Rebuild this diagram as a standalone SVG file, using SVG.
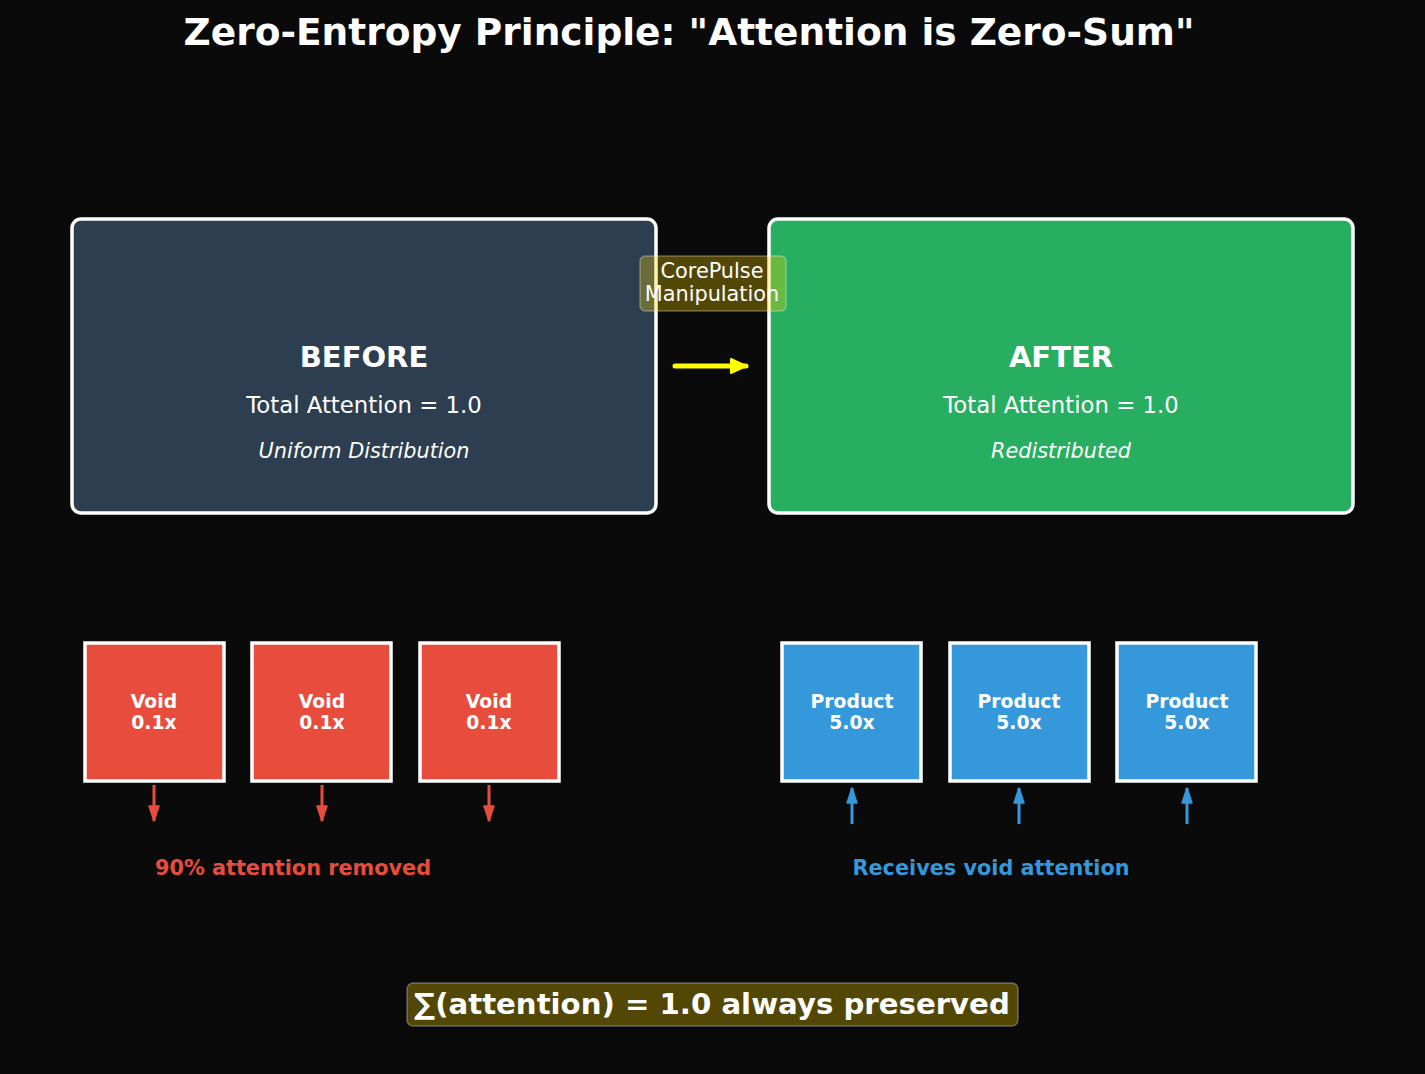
<svg xmlns="http://www.w3.org/2000/svg" width="1425" height="1074" viewBox="0 0 1425 1074">
<defs>
<style>
text{font-family:"DejaVu Sans",sans-serif;fill:#fff;text-anchor:middle}
.big{stroke:#fff;stroke-width:3.5}
.sq{stroke:#fff;stroke-width:3.5}
.h{font-size:29px;font-weight:bold}
.t{font-size:22.8px}
.i{font-size:20.8px;font-style:italic}
.s{font-size:18.8px;font-weight:bold}
.lab{font-size:20.8px;font-weight:bold}
</style>
<marker id="ay" viewBox="0 0 20 20" refX="17" refY="10" markerWidth="20" markerHeight="20" markerUnits="userSpaceOnUse" orient="auto"><path d="M2,3 L17,10 L2,17 z" fill="#ffff00" stroke="#ffff00" stroke-width="2" stroke-linejoin="round"/></marker>
<marker id="ar" viewBox="0 0 20 20" refX="17" refY="10" markerWidth="20" markerHeight="20" markerUnits="userSpaceOnUse" orient="auto"><path d="M2,5 L17,10 L2,15 z" fill="#e74c3c" stroke="#e74c3c" stroke-width="1.5" stroke-linejoin="round"/></marker>
<marker id="ab" viewBox="0 0 20 20" refX="17" refY="10" markerWidth="20" markerHeight="20" markerUnits="userSpaceOnUse" orient="auto"><path d="M2,5 L17,10 L2,15 z" fill="#3498db" stroke="#3498db" stroke-width="1.5" stroke-linejoin="round"/></marker>
</defs>
<rect width="1425" height="1074" fill="#0a0a0a"/>
<text x="689" y="45" style="font-size:37.5px;font-weight:bold">Zero-Entropy Principle: "Attention is Zero-Sum"</text>
<g id="before">
<rect class="big" x="72" y="219" width="584" height="294" rx="9" fill="#2c3e50"/>
<text class="h" x="364" y="367">BEFORE</text>
<text class="t" x="364" y="413">Total Attention = 1.0</text>
<text class="i" x="364" y="458">Uniform Distribution</text>
</g>
<g id="after">
<rect class="big" x="769" y="219" width="584" height="294" rx="9" fill="#27ae60"/>
<text class="h" x="1061" y="367">AFTER</text>
<text class="t" x="1061" y="413">Total Attention = 1.0</text>
<text class="i" x="1061" y="458">Redistributed</text>
</g>
<g id="voids">
<g id="void1"><rect class="sq" x="85" y="643" width="139" height="138" fill="#e74c3c"/><text class="s" x="154" y="708">Void</text><text class="s" x="154" y="729">0.1x</text></g>
<g id="void2"><rect class="sq" x="252" y="643" width="139" height="138" fill="#e74c3c"/><text class="s" x="322" y="708">Void</text><text class="s" x="322" y="729">0.1x</text></g>
<g id="void3"><rect class="sq" x="420" y="643" width="139" height="138" fill="#e74c3c"/><text class="s" x="489" y="708">Void</text><text class="s" x="489" y="729">0.1x</text></g>
</g>
<g id="products">
<g id="prod1"><rect class="sq" x="782" y="643" width="139" height="138" fill="#3498db"/><text class="s" x="852" y="708">Product</text><text class="s" x="852" y="729">5.0x</text></g>
<g id="prod2"><rect class="sq" x="950" y="643" width="139" height="138" fill="#3498db"/><text class="s" x="1019" y="708">Product</text><text class="s" x="1019" y="729">5.0x</text></g>
<g id="prod3"><rect class="sq" x="1117" y="643" width="139" height="138" fill="#3498db"/><text class="s" x="1187" y="708">Product</text><text class="s" x="1187" y="729">5.0x</text></g>
</g>
<g id="connectors" fill="none">
<line x1="675" y1="366" x2="746" y2="366" stroke="#ffff00" stroke-width="5" stroke-linecap="round" marker-end="url(#ay)"/>
<line x1="154" y1="785" x2="154" y2="821" stroke="#e74c3c" stroke-width="3" marker-end="url(#ar)"/>
<line x1="322" y1="785" x2="322" y2="821" stroke="#e74c3c" stroke-width="3" marker-end="url(#ar)"/>
<line x1="489" y1="785" x2="489" y2="821" stroke="#e74c3c" stroke-width="3" marker-end="url(#ar)"/>
<line x1="852" y1="824" x2="852" y2="788" stroke="#3498db" stroke-width="3" marker-end="url(#ab)"/>
<line x1="1019" y1="824" x2="1019" y2="788" stroke="#3498db" stroke-width="3" marker-end="url(#ab)"/>
<line x1="1187" y1="824" x2="1187" y2="788" stroke="#3498db" stroke-width="3" marker-end="url(#ab)"/>
</g>
<g id="label">
<rect x="640" y="256" width="146" height="55" rx="5" fill="#ffd700" fill-opacity="0.3" stroke="#ffffff" stroke-opacity="0.3" stroke-width="1.5"/>
<text x="712" y="278" style="font-size:20.8px">CorePulse</text>
<text x="712" y="301" style="font-size:20.8px">Manipulation</text>
</g>
<text class="lab" x="293" y="875" style="fill:#e74c3c">90% attention removed</text>
<text class="lab" x="991" y="875" style="fill:#3498db">Receives void attention</text>
<g id="summary">
<rect x="407" y="983" width="611" height="43" rx="6" fill="#ffd700" fill-opacity="0.3" stroke="#ffffff" stroke-opacity="0.3" stroke-width="1.5"/>
<text x="712" y="1014" style="font-size:29.2px;font-weight:bold">∑(attention) = 1.0 always preserved</text>
</g>
</svg>
